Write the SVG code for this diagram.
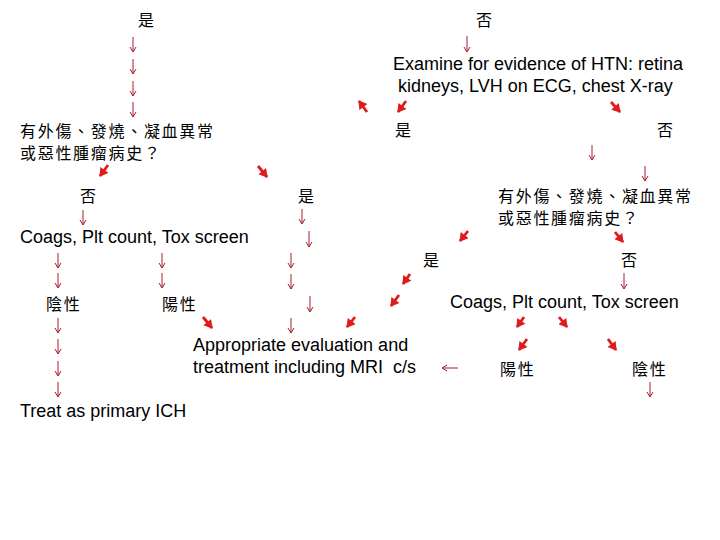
<svg xmlns="http://www.w3.org/2000/svg" width="720" height="540" viewBox="0 0 720 540">
<defs>
<marker id="thin" markerUnits="userSpaceOnUse" markerWidth="8" markerHeight="8" refX="6.5" refY="4" orient="auto" viewBox="0 0 8 8">
<path d="M1.5,1 L6.5,4 L1.5,7" fill="none" stroke="#a81c2e" stroke-width="1"/>
</marker>
<marker id="bold" markerUnits="userSpaceOnUse" markerWidth="10" markerHeight="10" refX="8" refY="5" orient="auto" viewBox="0 0 10 10">
<path d="M0.5,0 L9,5 L0.5,10 Z" fill="#e01b1b"/>
</marker>
</defs>
<style>
.cjk{font-family:"Noto Sans CJK TC","Noto Sans CJK SC",sans-serif;font-size:16px;letter-spacing:1.7px;fill:#000}
.en{font-family:"Liberation Sans",Arial,sans-serif;font-size:18px;fill:#000}
.t{stroke:#a81c2e;stroke-width:1;fill:none;marker-end:url(#thin)}
.b{stroke:#e01b1b;stroke-width:2.8;fill:none;marker-end:url(#bold)}
</style>
<rect width="720" height="540" fill="#fff"/>
<g id="connectors">
<line class="t" x1="133" y1="37" x2="133" y2="52"/>
<line class="t" x1="133" y1="59" x2="133" y2="74"/>
<line class="t" x1="133" y1="81" x2="133" y2="96"/>
<line class="t" x1="133" y1="102" x2="133" y2="117"/>
<line class="t" x1="467" y1="36" x2="467" y2="52"/>
<line class="t" x1="592" y1="145" x2="592" y2="160"/>
<line class="t" x1="645" y1="166" x2="645" y2="181"/>
<line class="t" x1="83" y1="210" x2="83" y2="225"/>
<line class="t" x1="58" y1="253" x2="58" y2="268"/>
<line class="t" x1="58" y1="273" x2="58" y2="288"/>
<line class="t" x1="162" y1="253" x2="162" y2="268"/>
<line class="t" x1="162" y1="273" x2="162" y2="288"/>
<line class="t" x1="58" y1="318" x2="58" y2="333"/>
<line class="t" x1="58" y1="339" x2="58" y2="354"/>
<line class="t" x1="58" y1="361" x2="58" y2="376"/>
<line class="t" x1="58" y1="382" x2="58" y2="397"/>
<line class="t" x1="302" y1="209" x2="302" y2="224"/>
<line class="t" x1="309" y1="231" x2="309" y2="247"/>
<line class="t" x1="291" y1="253" x2="291" y2="268"/>
<line class="t" x1="291" y1="274" x2="291" y2="289"/>
<line class="t" x1="310" y1="296" x2="310" y2="312"/>
<line class="t" x1="291" y1="318" x2="291" y2="333"/>
<line class="t" x1="624" y1="273" x2="624" y2="289"/>
<line class="t" x1="650" y1="382" x2="650" y2="397"/>
<line class="t" x1="458" y1="368" x2="442" y2="368"/>
<line class="b" x1="367" y1="112" x2="359" y2="101"/>
<line class="b" x1="406" y1="101" x2="398" y2="112"/>
<line class="b" x1="611" y1="102" x2="620" y2="112"/>
<line class="b" x1="108" y1="165" x2="100" y2="176"/>
<line class="b" x1="258" y1="166" x2="267" y2="177"/>
<line class="b" x1="468" y1="231" x2="460" y2="241"/>
<line class="b" x1="615" y1="232" x2="623" y2="242"/>
<line class="b" x1="410" y1="274" x2="403" y2="284"/>
<line class="b" x1="399" y1="295" x2="391" y2="306"/>
<line class="b" x1="355" y1="317" x2="347" y2="327"/>
<line class="b" x1="203" y1="317" x2="212" y2="328"/>
<line class="b" x1="524" y1="317" x2="517" y2="327"/>
<line class="b" x1="559" y1="317" x2="567" y2="327"/>
<line class="b" x1="527" y1="339" x2="519" y2="350"/>
<line class="b" x1="608" y1="339" x2="616" y2="350"/>
</g>
<g id="yes-top"><text class="cjk" x="138" y="26">是</text></g>
<g id="no-top"><text class="cjk" x="476" y="26">否</text></g>
<g id="examine-htn"><text class="en" x="393" y="70">Examine for evidence of HTN: retina</text><text class="en" x="398" y="92">kidneys, LVH on ECG, chest X-ray</text></g>
<g id="htn-yes"><text class="cjk" x="395" y="136">是</text></g>
<g id="htn-no"><text class="cjk" x="657" y="136">否</text></g>
<g id="history-left"><text class="cjk" x="20" y="137">有外傷、發燒、凝血異常</text><text class="cjk" x="20" y="159">或惡性腫瘤病史？</text></g>
<g id="left-no"><text class="cjk" x="80" y="202">否</text></g>
<g id="left-yes"><text class="cjk" x="298" y="202">是</text></g>
<g id="history-right"><text class="cjk" x="498" y="202">有外傷、發燒、凝血異常</text><text class="cjk" x="498" y="224">或惡性腫瘤病史？</text></g>
<g id="coags-left"><text class="en" x="20" y="243">Coags, Plt count, Tox screen</text></g>
<g id="right-yes"><text class="cjk" x="423" y="266">是</text></g>
<g id="right-no"><text class="cjk" x="621" y="266">否</text></g>
<g id="neg-left"><text class="cjk" x="46" y="310">陰性</text></g>
<g id="pos-left"><text class="cjk" x="162" y="310">陽性</text></g>
<g id="coags-right"><text class="en" x="450" y="308">Coags, Plt count, Tox screen</text></g>
<g id="appropriate"><text class="en" x="193" y="351">Appropriate evaluation and</text><text class="en" x="193" y="373" xml:space="preserve">treatment including MRI  c/s</text></g>
<g id="pos-right"><text class="cjk" x="500" y="375">陽性</text></g>
<g id="neg-right"><text class="cjk" x="632" y="375">陰性</text></g>
<g id="primary-ich"><text class="en" x="20" y="417">Treat as primary ICH</text></g>
</svg>
